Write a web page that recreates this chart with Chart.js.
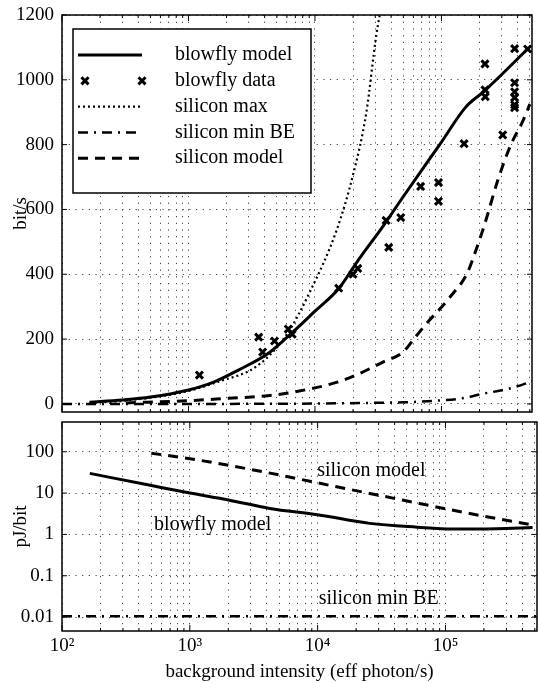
<!DOCTYPE html>
<html>
<head>
<meta charset="utf-8">
<script src="https://cdn.jsdelivr.net/npm/chart.js@4.4.0/dist/chart.umd.min.js"></script>
<style>
  body { margin: 0; background: #fff; }
  #wrap { position: relative; width: 540px; height: 683px; }
  #top { position: absolute; left: 0; top: 0; }
  #bottom { position: absolute; left: 0; top: 420px; }
</style>
</head>
<body>
<div id="wrap">
  <canvas id="top" width="540" height="420"></canvas>
  <canvas id="bottom" width="540" height="263"></canvas>
</div>
<script>
const FONT = "'Liberation Serif', 'Times New Roman', serif";

// ---- top panel: information rate (bit/s) ----
const modelX    = [165, 300, 500, 1000, 1600, 2500, 4200, 6000, 10000, 15500, 21400, 35500, 50000, 100000, 155000, 218000, 480000];
const modelBits = [5, 12, 21, 43, 68, 105, 154, 205, 286, 357, 437, 555, 640, 808, 915, 965, 1095];

const flyX    = [1220, 3590, 3860, 4790, 6150, 6600, 15400, 20000, 21800, 36500, 38300, 47700, 68500, 94800, 94800, 151000, 221000, 221000, 222000, 305000, 379000, 379000, 379000, 379000, 379000, 379000, 480000];
const flyBits = [89, 206, 160, 194, 231, 215, 357, 400, 418, 566, 483, 575, 671, 683, 625, 803, 1049, 969, 948, 830, 1096, 991, 963, 945, 923, 914, 1095];

const maxX    = [165, 320, 950, 1710, 3520, 6000, 9100, 14800, 20100, 25500, 30600, 34000];
const maxBits = [3, 10, 38, 68, 118, 215, 345, 535, 710, 900, 1140, 1240];

const minBeX    = [100, 1000, 10000, 25600, 50000, 85000, 150000, 209000, 300000, 380000, 520000];
const minBeBits = [0, 0, 1, 3, 5, 9, 18, 31, 42, 52, 70];

const siX    = [320, 1000, 2000, 4220, 6860, 12400, 18700, 34500, 49600, 63000, 79000, 102000, 129000, 145000, 162000, 185000, 209000, 228000, 279000, 354000, 437000, 500000];
const siBits = [3, 10, 17, 25, 37, 58, 80, 129, 160, 209, 255, 302, 350, 375, 408, 468, 528, 575, 690, 800, 870, 925];

// ---- bottom panel: energy cost (pJ/bit) ----
const flyEX = [165, 490, 1000, 2000, 4220, 10000, 25600, 60000, 113000, 250000, 480000];
const flyE  = [30, 15.4, 10, 6.8, 4.25, 3.0, 1.85, 1.5, 1.35, 1.38, 1.47];

const siEX = [500, 1000, 3700, 14100, 46000, 155000, 480000];
const siE  = [92, 68, 33, 14.2, 6.8, 3.2, 1.7];

const minBeEX = [100, 1000, 10000, 100000, 520000];
const minBeE  = [0.0105, 0.0105, 0.0105, 0.0105, 0.0105];

const noteText = ['silicon model', 'blowfly model', 'silicon min BE'];
const noteX    = [26300, 1510, 30000];
const noteY    = [35, 1.7, 0.027];

// ---- ticks ----
const bitTicks = [0, 200, 400, 600, 800, 1000, 1200];
const energyTicks = [0.01, 0.1, 1, 10, 100];
const energyLabels = ['0.01', '0.1', '1', '10', '100'];
const decades = [100, 1000, 10000, 100000];
const decadeLabels = ['10\u00b2', '10\u00b3', '10\u2074', '10\u2075'];
const minorSteps = [2, 3, 4, 5, 6, 7, 8, 9];
const X_MAX = 520000;

const pts = (xs, ys) => xs.map((x, i) => ({ x: x, y: ys[i] }));
const font = { family: FONT, size: 19 };
const textFont = '20px ' + FONT;

function noPad(s) {
  s.paddingTop = 0; s.paddingBottom = 0; s.paddingLeft = 0; s.paddingRight = 0;
}

function xScale(showLabels, height) {
  return {
    type: 'logarithmic',
    min: 100,
    max: X_MAX,
    afterBuildTicks: s => {
      const t = [];
      decades.forEach(d => {
        t.push({ value: d });
        minorSteps.forEach(m => { if (d * m <= X_MAX) t.push({ value: d * m }); });
      });
      s.ticks = t;
    },
    afterFit: s => { s.height = height; noPad(s); },
    ticks: {
      display: showLabels,
      autoSkip: false,
      maxRotation: 0,
      padding: 4,
      font: font,
      color: '#000',
      callback: v => { const i = decades.indexOf(v); return i >= 0 ? decadeLabels[i] : ''; }
    },
    grid: { color: '#444', lineWidth: 1, drawTicks: false },
    border: { display: false, dash: [1.2, 5.5] },
    title: {
      display: showLabels,
      text: 'background intensity (eff photon/s)',
      font: font,
      color: '#000',
      padding: { top: 0, bottom: 0 }
    }
  };
}

// box round the plot area, with small inward ticks
const frame = {
  id: 'frame',
  afterDraw(chart) {
    const { ctx, chartArea: a, scales } = chart;
    ctx.save();
    ctx.strokeStyle = '#000';
    ctx.setLineDash([]);
    ctx.lineWidth = 1.5;
    ctx.strokeRect(a.left, a.top, a.right - a.left, a.bottom - a.top);
    ctx.lineWidth = 1;
    ctx.beginPath();
    scales.x.ticks.forEach(t => {
      const px = scales.x.getPixelForValue(t.value);
      const len = decades.includes(t.value) ? 6 : 3;
      ctx.moveTo(px, a.bottom); ctx.lineTo(px, a.bottom - len);
      ctx.moveTo(px, a.top); ctx.lineTo(px, a.top + len);
    });
    scales.y.ticks.forEach(t => {
      const py = scales.y.getPixelForValue(t.value);
      ctx.moveTo(a.left, py); ctx.lineTo(a.left + 5, py);
      ctx.moveTo(a.right, py); ctx.lineTo(a.right - 5, py);
    });
    ctx.stroke();
    ctx.restore();
  }
};

// legend in a box at the top left
const legendBox = {
  id: 'legendBox',
  afterDatasetsDraw(chart) {
    const { ctx, chartArea: a } = chart;
    const x0 = a.left + 11, y0 = a.top + 14, w = 238, h = 164;
    ctx.save();
    ctx.fillStyle = '#fff';
    ctx.fillRect(x0, y0, w, h);
    ctx.strokeStyle = '#000';
    ctx.lineWidth = 1.5;
    ctx.setLineDash([]);
    ctx.strokeRect(x0, y0, w, h);
    ctx.font = textFont;
    ctx.textBaseline = 'middle';
    ctx.fillStyle = '#000';
    chart.data.datasets.forEach((ds, i) => {
      const y = y0 + 26 + i * 25.8;
      if (ds.showLine === false) {
        [x0 + 12, x0 + 69].forEach(px => {
          Chart.helpers.drawPoint(ctx, { pointStyle: 'crossRot', radius: 5, borderWidth: 3 }, px, y);
        });
      } else {
        ctx.beginPath();
        ctx.lineWidth = ds.borderWidth;
        ctx.setLineDash(ds.borderDash || []);
        ctx.moveTo(x0 + 5, y);
        ctx.lineTo(x0 + 69, y);
        ctx.stroke();
      }
      ctx.setLineDash([]);
      ctx.fillText(ds.label, x0 + 102, y);
    });
    ctx.restore();
  }
};

// text labels inside the lower panel
const notes = {
  id: 'notes',
  afterDatasetsDraw(chart) {
    const { ctx, scales } = chart;
    ctx.save();
    ctx.font = textFont;
    ctx.fillStyle = '#000';
    ctx.textAlign = 'center';
    ctx.textBaseline = 'middle';
    noteText.forEach((t, i) => {
      ctx.fillText(t, scales.x.getPixelForValue(noteX[i]), scales.y.getPixelForValue(noteY[i]));
    });
    ctx.restore();
  }
};

const lineSet = (label, data, dash, width) => ({
  label: label,
  data: data,
  borderColor: '#000',
  backgroundColor: '#000',
  borderWidth: width,
  borderDash: dash,
  pointRadius: 0,
  cubicInterpolationMode: 'monotone',
  fill: false
});

new Chart(document.getElementById('top').getContext('2d'), {
  type: 'line',
  data: {
    datasets: [
      lineSet('blowfly model', pts(modelX, modelBits), [], 3),
      {
        label: 'blowfly data',
        data: pts(flyX, flyBits),
        showLine: false,
        pointStyle: 'crossRot',
        pointRadius: 5,
        pointBorderWidth: 3,
        borderColor: '#000',
        backgroundColor: '#000'
      },
      lineSet('silicon max', pts(maxX, maxBits), [2, 3], 2.2),
      lineSet('silicon min BE', pts(minBeX, minBeBits), [10, 6, 2, 6], 2.5),
      lineSet('silicon model', pts(siX, siBits), [10, 7], 3)
    ]
  },
  options: {
    responsive: false,
    animation: false,
    layout: { padding: { top: 15, right: 3, left: 0, bottom: 0 } },
    plugins: { legend: { display: false }, tooltip: { enabled: false } },
    scales: {
      x: xScale(false, 7),
      y: {
        min: -25,
        max: 1200,
        afterBuildTicks: s => { s.ticks = bitTicks.map(v => ({ value: v })); },
        afterFit: s => { s.width = 62; noPad(s); },
        ticks: { font: font, color: '#000', padding: 8, callback: v => String(v) },
        grid: { color: '#444', lineWidth: 1, drawTicks: false },
        border: { display: false, dash: [1.2, 5.5] },
        title: { display: true, text: 'bit/s', font: font, color: '#000', padding: { top: 10, bottom: 0 } }
      }
    }
  },
  plugins: [legendBox, frame]
});

new Chart(document.getElementById('bottom').getContext('2d'), {
  type: 'line',
  data: {
    datasets: [
      lineSet('blowfly model', pts(flyEX, flyE), [], 3),
      lineSet('silicon model', pts(siEX, siE), [10, 7], 3),
      lineSet('silicon min BE', pts(minBeEX, minBeE), [10, 6, 2, 6], 2.5)
    ]
  },
  options: {
    responsive: false,
    animation: false,
    layout: { padding: { top: 2, right: 3, left: 0, bottom: 0 } },
    plugins: { legend: { display: false }, tooltip: { enabled: false } },
    scales: {
      x: xScale(true, 52),
      y: {
        type: 'logarithmic',
        min: 0.0046,
        max: 525,
        afterBuildTicks: s => { s.ticks = energyTicks.map(v => ({ value: v })); },
        afterFit: s => { s.width = 62; noPad(s); },
        ticks: {
          font: font, color: '#000', padding: 8,
          callback: v => { const i = energyTicks.indexOf(v); return i >= 0 ? energyLabels[i] : ''; }
        },
        grid: { color: '#444', lineWidth: 1, drawTicks: false },
        border: { display: false, dash: [1.2, 5.5] },
        title: { display: true, text: 'pJ/bit', font: font, color: '#000', padding: { top: 10, bottom: 0 } }
      }
    }
  },
  plugins: [notes, frame]
});
</script>
</body>
</html>
